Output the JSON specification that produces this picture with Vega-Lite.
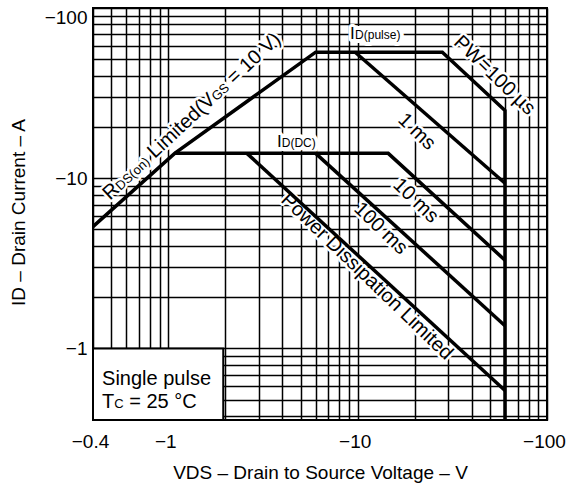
{
  "$schema": "https://vega.github.io/schema/vega-lite/v6.json",
  "width": 454,
  "height": 412,
  "autosize": {"type": "none"},
  "padding": {"left": 93, "top": 8, "right": 19, "bottom": 72},
  "background": "white",
  "config": {
    "view": {"stroke": "black", "strokeWidth": 2},
    "font": "Liberation Sans",
    "text": {"font": "Liberation Sans"}
  },
  "datasets": {
    "curves": [
      {"curve": "envelope", "pt": 1, "v": -0.4, "i": -5.2},
      {"curve": "envelope", "pt": 2, "v": -1.08, "i": -14},
      {"curve": "envelope", "pt": 3, "v": -6, "i": -55},
      {"curve": "envelope", "pt": 4, "v": -28, "i": -55},
      {"curve": "envelope", "pt": 5, "v": -60, "i": -25},
      {"curve": "envelope", "pt": 6, "v": -60, "i": -0.38},
      {"curve": "dc", "pt": 1, "v": -1.08, "i": -14},
      {"curve": "dc", "pt": 2, "v": -14.5, "i": -14},
      {"curve": "dc", "pt": 3, "v": -60, "i": -3.3},
      {"curve": "pd", "pt": 1, "v": -2.6, "i": -14},
      {"curve": "pd", "pt": 2, "v": -60, "i": -0.566},
      {"curve": "ms100", "pt": 1, "v": -6, "i": -14},
      {"curve": "ms100", "pt": 2, "v": -60, "i": -1.36},
      {"curve": "ms1", "pt": 1, "v": -9.7, "i": -55},
      {"curve": "ms1", "pt": 2, "v": -60, "i": -9.35}
    ],
    "labels": [
      {"kind": "rds", "text": "R", "v": -0.492, "i": -7.38},
      {"kind": "rdsSub", "text": "DS(on)", "v": -0.559, "i": -8.42},
      {"kind": "rds", "text": "Limited(V", "v": -0.848, "i": -12.96},
      {"kind": "rdsSub", "text": "GS", "v": -1.795, "i": -28.2},
      {"kind": "rds", "text": "= 10 V)", "v": -2.232, "i": -35.3},
      {"kind": "id", "text": "I", "v": -9.12, "i": -65.8},
      {"kind": "idSub", "text": "D(pulse)", "v": -9.69, "i": -65.8},
      {"kind": "id", "text": "I", "v": -3.752, "i": -15.25},
      {"kind": "idSub", "text": "D(DC)", "v": -3.972, "i": -15.25},
      {"kind": "diag", "text": "PW=100 µs", "v": -31.8, "i": -61.9},
      {"kind": "diag", "text": "1 ms", "v": -16.15, "i": -21.7},
      {"kind": "diag", "text": "10 ms", "v": -15.19, "i": -9.0},
      {"kind": "diag", "text": "100 ms", "v": -9.46, "i": -6.51},
      {"kind": "diag", "text": "Power Dissipation Limited", "v": -3.89, "i": -7.35},
      {"kind": "box", "text": "Single pulse", "v": -0.4466, "i": -0.607},
      {"kind": "box", "text": "T", "v": -0.4466, "i": -0.4466},
      {"kind": "boxSub", "text": "C", "v": -0.5177, "i": -0.4466},
      {"kind": "box", "text": "= 25 °C", "v": -0.6216, "i": -0.4466}
    ],
    "box": [
      {"v": -0.4, "v2": -1.95, "i": -0.38, "i2": -1.0}
    ]
  },
  "encoding": {
    "x": {
      "field": "v",
      "type": "quantitative",
      "scale": {"type": "log", "domain": [-0.4, -100], "nice": false},
      "axis": {
        "values": [-0.4, -0.5, -0.6, -0.7, -0.8, -0.9, -1, -2, -3, -4, -5, -6, -7, -8, -9, -10, -20, -30, -40, -50, -60, -70, -80, -90, -100],
        "format": "~g",
        "labelExpr": "indexof([-0.4, -1, -10, -100], datum.value) >= 0 ? datum.label : ''",
        "grid": true,
        "gridColor": "black",
        "gridWidth": 1.5,
        "gridOpacity": 1,
        "ticks": false,
        "domain": false,
        "labelFontSize": 19,
        "labelColor": "black",
        "labelFont": "Liberation Sans",
        "labelPadding": 12,
        "labelOverlap": false,
        "labelBound": false,
        "labelFlush": false,
        "labelOffset": -3,
        "title": "VDS – Drain to Source Voltage – V",
        "titleFont": "Liberation Sans",
        "titleFontSize": 19,
        "titleFontWeight": "normal",
        "titleColor": "black",
        "titleBaseline": "alphabetic",
        "titleY": 58
      }
    },
    "y": {
      "field": "i",
      "type": "quantitative",
      "scale": {"type": "log", "domain": [-0.38, -100], "nice": false},
      "axis": {
        "values": [-0.4, -0.5, -0.6, -0.7, -0.8, -0.9, -1, -2, -3, -4, -5, -6, -7, -8, -9, -10, -20, -30, -40, -50, -60, -70, -80, -90, -100],
        "format": "~g",
        "labelExpr": "indexof([-1, -10, -100], datum.value) >= 0 ? datum.label : ''",
        "grid": true,
        "gridColor": "black",
        "gridWidth": 1.5,
        "gridOpacity": 1,
        "ticks": false,
        "domain": false,
        "labelFontSize": 19,
        "labelColor": "black",
        "labelFont": "Liberation Sans",
        "labelPadding": 6,
        "labelOverlap": false,
        "labelBound": false,
        "labelFlush": true,
        "title": "ID – Drain Current – A",
        "titleFont": "Liberation Sans",
        "titleFontSize": 19,
        "titleFontWeight": "normal",
        "titleColor": "black",
        "titleAngle": 270,
        "titleAlign": "center",
        "titleBaseline": "alphabetic",
        "titleX": -69,
        "titleY": 204
      }
    }
  },
  "layer": [
    {
      "data": {"name": "box"},
      "mark": {"type": "rect", "fill": "white", "stroke": "black", "strokeWidth": 2},
      "encoding": {"x2": {"field": "v2"}, "y2": {"field": "i2"}}
    },
    {
      "data": {"name": "labels"},
      "transform": [{"filter": "datum.kind == 'rds'"}],
      "mark": {"type": "text", "align": "left", "baseline": "alphabetic", "angle": 317, "fontSize": 20, "fill": "white", "stroke": "white", "strokeWidth": 5, "strokeJoin": "round"},
      "encoding": {"text": {"field": "text"}}
    },
    {
      "data": {"name": "labels"},
      "transform": [{"filter": "datum.kind == 'rdsSub'"}],
      "mark": {"type": "text", "align": "left", "baseline": "alphabetic", "angle": 317, "fontSize": 13, "fill": "white", "stroke": "white", "strokeWidth": 5, "strokeJoin": "round"},
      "encoding": {"text": {"field": "text"}}
    },
    {
      "data": {"name": "labels"},
      "transform": [{"filter": "datum.kind == 'id'"}],
      "mark": {"type": "text", "align": "left", "baseline": "alphabetic", "fontSize": 17, "fill": "white", "stroke": "white", "strokeWidth": 6, "strokeJoin": "round"},
      "encoding": {"text": {"field": "text"}}
    },
    {
      "data": {"name": "labels"},
      "transform": [{"filter": "datum.kind == 'idSub'"}],
      "mark": {"type": "text", "align": "left", "baseline": "alphabetic", "fontSize": 12, "fill": "white", "stroke": "white", "strokeWidth": 8, "strokeJoin": "round"},
      "encoding": {"text": {"field": "text"}}
    },
    {
      "data": {"name": "labels"},
      "transform": [{"filter": "datum.kind == 'diag'"}],
      "mark": {"type": "text", "align": "left", "baseline": "alphabetic", "angle": 44, "fontSize": 20, "fill": "white", "stroke": "white", "strokeWidth": 5, "strokeJoin": "round"},
      "encoding": {"text": {"field": "text"}}
    },
    {
      "data": {"name": "curves"},
      "mark": {"type": "line", "color": "black", "strokeWidth": 3.5, "strokeJoin": "miter"},
      "encoding": {
        "detail": {"field": "curve"},
        "order": {"field": "pt", "type": "quantitative"}
      }
    },
    {
      "data": {"name": "labels"},
      "transform": [{"filter": "datum.kind == 'rds'"}],
      "mark": {"type": "text", "align": "left", "baseline": "alphabetic", "angle": 317, "fontSize": 20, "color": "black"},
      "encoding": {"text": {"field": "text"}}
    },
    {
      "data": {"name": "labels"},
      "transform": [{"filter": "datum.kind == 'rdsSub'"}],
      "mark": {"type": "text", "align": "left", "baseline": "alphabetic", "angle": 317, "fontSize": 13, "color": "black"},
      "encoding": {"text": {"field": "text"}}
    },
    {
      "data": {"name": "labels"},
      "transform": [{"filter": "datum.kind == 'id'"}],
      "mark": {"type": "text", "align": "left", "baseline": "alphabetic", "fontSize": 17, "color": "black"},
      "encoding": {"text": {"field": "text"}}
    },
    {
      "data": {"name": "labels"},
      "transform": [{"filter": "datum.kind == 'idSub'"}],
      "mark": {"type": "text", "align": "left", "baseline": "alphabetic", "fontSize": 12, "color": "black"},
      "encoding": {"text": {"field": "text"}}
    },
    {
      "data": {"name": "labels"},
      "transform": [{"filter": "datum.kind == 'diag'"}],
      "mark": {"type": "text", "align": "left", "baseline": "alphabetic", "angle": 44, "fontSize": 20, "color": "black"},
      "encoding": {"text": {"field": "text"}}
    },
    {
      "data": {"name": "labels"},
      "transform": [{"filter": "datum.kind == 'box'"}],
      "mark": {"type": "text", "align": "left", "baseline": "alphabetic", "fontSize": 20, "color": "black"},
      "encoding": {"text": {"field": "text"}}
    },
    {
      "data": {"name": "labels"},
      "transform": [{"filter": "datum.kind == 'boxSub'"}],
      "mark": {"type": "text", "align": "left", "baseline": "alphabetic", "fontSize": 13, "color": "black"},
      "encoding": {"text": {"field": "text"}}
    }
  ]
}
